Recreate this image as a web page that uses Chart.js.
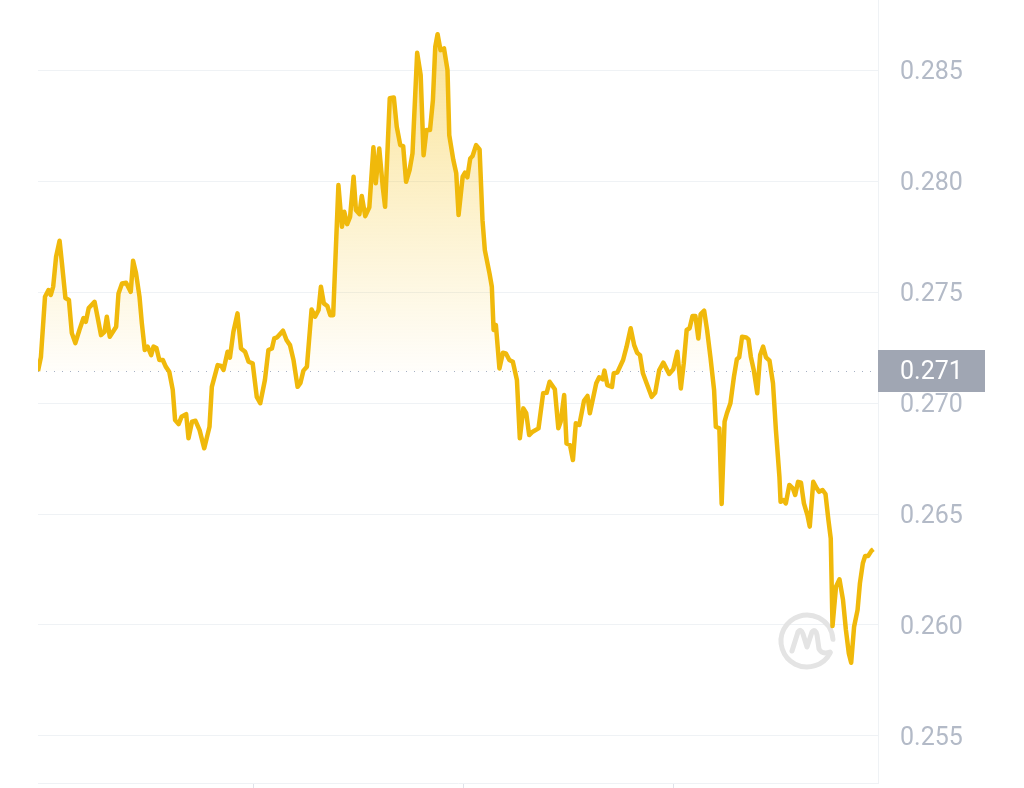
<!DOCTYPE html>
<html>
<head>
<meta charset="utf-8">
<script src="https://cdn.jsdelivr.net/npm/chart.js@4"></script>
<style>
  html, body { margin: 0; padding: 0; background: #fff; }
  #wrap { width: 1024px; height: 788px; }
</style>
</head>
<body>
<div id="wrap"><canvas id="chart-harga"></canvas></div>
<script>
// minutes since open, last 24h
const times = [0, 5, 12, 18, 22, 26, 31, 37, 41, 47, 53, 58, 64, 71, 78, 82, 87, 97, 102, 108,
  114, 118, 123, 134, 138, 144, 151, 159, 163, 168, 174, 178, 183, 188, 194, 198, 203, 208, 214, 219,
  225, 231, 235, 241, 246, 254, 258, 264, 270, 277, 285, 294, 298, 308, 314, 318, 325, 329, 335, 342,
  348, 355, 361, 368, 375, 381, 389, 395, 401, 405, 410, 420, 426, 432, 438, 445, 450, 455, 461, 469,
  475, 481, 485, 490, 496, 501, 506, 515, 521, 525, 530, 535, 541, 545, 551, 555, 561, 568, 575, 579,
  585, 591, 595, 603, 610, 615, 621, 626, 631, 637, 642, 650, 656, 661, 666, 672, 677, 681, 685, 690,
  696, 702, 705, 712, 717, 721, 728, 732, 736, 741, 745, 751, 757, 762, 766, 774, 778, 781, 785, 791,
  797, 802, 808, 814, 821, 826, 832, 837, 842, 848, 858, 866, 872, 877, 886, 892, 896, 902, 906, 912,
  917, 922, 928, 936, 942, 946, 957, 962, 968, 971, 976, 984, 987, 993, 1003, 1009, 1016, 1022, 1027, 1032,
  1037, 1043, 1052, 1058, 1065, 1072, 1082, 1089, 1096, 1102, 1107, 1112, 1117, 1122, 1127, 1132, 1136, 1142, 1147, 1153,
  1159, 1162, 1168, 1172, 1177, 1181, 1187, 1193, 1198, 1202, 1207, 1214, 1218, 1222, 1227, 1233, 1238, 1243, 1248, 1254,
  1260, 1265, 1271, 1273, 1278, 1282, 1288, 1294, 1298, 1303, 1308, 1313, 1319, 1323, 1329, 1335, 1339, 1345, 1350, 1355,
  1359, 1362, 1368, 1374, 1380, 1385, 1390, 1394, 1399, 1405, 1409, 1414, 1418, 1423, 1429, 1432];

const prices = [0.27144, 0.27207, 0.27479, 0.27509, 0.27487, 0.27524, 0.27659, 0.27731, 0.27631, 0.27473,
  0.27464, 0.27315, 0.27270, 0.27329, 0.27383, 0.27366, 0.27428, 0.27456, 0.27389, 0.27306,
  0.27321, 0.27389, 0.27299, 0.27344, 0.27494, 0.27539, 0.27542, 0.27501, 0.27641, 0.27586,
  0.27479, 0.27360, 0.27239, 0.27254, 0.27216, 0.27254, 0.27248, 0.27194, 0.27194, 0.27164,
  0.27141, 0.27059, 0.26923, 0.26905, 0.26938, 0.26950, 0.26841, 0.26916, 0.26920, 0.26878,
  0.26796, 0.26893, 0.27073, 0.27171, 0.27167, 0.27149, 0.27231, 0.27204, 0.27321, 0.27404,
  0.27246, 0.27231, 0.27186, 0.27179, 0.27028, 0.26999, 0.27104, 0.27239, 0.27246, 0.27291,
  0.27296, 0.27326, 0.27284, 0.27261, 0.27194, 0.27073, 0.27091, 0.27146, 0.27164, 0.27422,
  0.27389, 0.27419, 0.27524, 0.27449, 0.27437, 0.27396, 0.27396, 0.27982, 0.27794, 0.27862,
  0.27806, 0.27839, 0.28020, 0.27870, 0.27851, 0.27933, 0.27842, 0.27882, 0.28152, 0.27990,
  0.28147, 0.27974, 0.27884, 0.28373, 0.28377, 0.28245, 0.28162, 0.28158, 0.27997, 0.28050,
  0.28125, 0.28578, 0.28478, 0.28117, 0.28230, 0.28230, 0.28365, 0.28605, 0.28662, 0.28590,
  0.28598, 0.28500, 0.28207, 0.28095, 0.28035, 0.27847, 0.28020, 0.28038, 0.28017, 0.28102,
  0.28113, 0.28162, 0.28143, 0.27824, 0.27689, 0.27584, 0.27524, 0.27329, 0.27351, 0.27156,
  0.27227, 0.27224, 0.27194, 0.27186, 0.27104, 0.26841, 0.26976, 0.26954, 0.26856, 0.26871,
  0.26886, 0.27044, 0.27046, 0.27096, 0.27062, 0.26886, 0.26916, 0.27036, 0.26818, 0.26811,
  0.26743, 0.26909, 0.26901, 0.27010, 0.27032, 0.26954, 0.27089, 0.27116, 0.27107, 0.27146,
  0.27081, 0.27073, 0.27134, 0.27137, 0.27194, 0.27254, 0.27337, 0.27261, 0.27227, 0.27216,
  0.27134, 0.27091, 0.27028, 0.27046, 0.27149, 0.27182, 0.27131, 0.27152, 0.27231, 0.27066,
  0.27179, 0.27329, 0.27337, 0.27392, 0.27392, 0.27291, 0.27401, 0.27416, 0.27329, 0.27201,
  0.27059, 0.26893, 0.26886, 0.26545, 0.26916, 0.26954, 0.26999, 0.27118, 0.27197, 0.27206,
  0.27299, 0.27296, 0.27287, 0.27209, 0.27149, 0.27044, 0.27216, 0.27254, 0.27206, 0.27191,
  0.27089, 0.26878, 0.26668, 0.26555, 0.26563, 0.26548, 0.26631, 0.26616, 0.26586, 0.26645,
  0.26641, 0.26548, 0.26495, 0.26443, 0.26645, 0.26616, 0.26600, 0.26608, 0.26590, 0.26473,
  0.26390, 0.25995, 0.26172, 0.26206, 0.26113, 0.25977, 0.25872, 0.25830, 0.25992, 0.26068,
  0.26188, 0.26278, 0.26311, 0.26311, 0.26335, 0.26341];

const openPrice = 0.27144;
const yTicks = [0.255, 0.260, 0.265, 0.270, 0.275, 0.280, 0.285];
const xTicks = [370, 730, 1090];

const kuning = '#F0B90B';
const abuGrid = '#eff2f5';
const fontLabel = 'Roboto';

// garis titik-titik harga buka + kotak label di sumbu kanan
const garisBuka = {
  id: 'garisBuka',
  beforeDatasetsDraw(chart) {
    const { ctx, chartArea } = chart;
    const y = Math.round(chart.scales.y.getPixelForValue(openPrice)) + 0.5;
    ctx.save();
    ctx.strokeStyle = '#a6b0c3';
    ctx.lineWidth = 1;
    ctx.setLineDash([1, 7]);
    ctx.beginPath();
    ctx.moveTo(chartArea.left, y);
    ctx.lineTo(chartArea.right, y);
    ctx.stroke();
    ctx.restore();

    // logo watermark
    const cx = 807, cy = 641;
    ctx.save();
    ctx.strokeStyle = '#e4e4e4';
    ctx.lineWidth = 5;
    ctx.lineCap = 'round';
    ctx.lineJoin = 'round';
    ctx.beginPath();
    ctx.arc(cx, cy, 26, 0.15 * Math.PI, 1.98 * Math.PI);
    ctx.stroke();
    ctx.beginPath();
    ctx.moveTo(cx - 15, cy + 10);
    ctx.lineTo(cx - 9, cy - 9);
    ctx.quadraticCurveTo(cx - 6, cy - 13, cx - 4, cy - 7);
    ctx.lineTo(cx + 0, cy + 6);
    ctx.lineTo(cx + 5, cy - 9);
    ctx.quadraticCurveTo(cx + 8, cy - 13, cx + 10, cy - 6);
    ctx.lineTo(cx + 12, cy + 8);
    ctx.quadraticCurveTo(cx + 15, cy + 14, cx + 23, cy + 11);
    ctx.stroke();
    ctx.restore();
  },
  afterDraw(chart) {
    const { ctx, chartArea } = chart;
    const y = chart.scales.y.getPixelForValue(openPrice);
    ctx.save();
    ctx.fillStyle = '#a0a6b3';
    ctx.fillRect(chartArea.right, Math.round(y) - 21, 107, 42);
    ctx.fillStyle = '#ffffff';
    ctx.font = '25px ' + fontLabel;
    ctx.textBaseline = 'middle';
    ctx.fillText(openPrice.toFixed(3), chartArea.right + 22, y + 2);
    ctx.restore();
  }
};

new Chart(
  document.getElementById('chart-harga'),
  {
    type: 'line',
    data: {
      datasets: [
        {
          label: 'Harga',
          data: times.map((t, i) => ({ x: t, y: prices[i] })),
          borderColor: kuning,
          borderWidth: 4.5,
          borderJoinStyle: 'round',
          pointRadius: 0,
          tension: 0,
          fill: {
            target: { value: openPrice },
            above: (context) => {
              const { chart } = context;
              const { ctx, chartArea, scales } = chart;
              if (!chartArea) return 'rgba(240,185,11,0.2)';
              const top = scales.y.getPixelForValue(Math.max(...prices));
              const base = scales.y.getPixelForValue(openPrice);
              const g = ctx.createLinearGradient(0, top, 0, base);
              g.addColorStop(0, 'rgba(245,195,30,0.45)');
              g.addColorStop(1, 'rgba(245,195,30,0.02)');
              return g;
            },
            below: 'rgba(0,0,0,0)'
          }
        }
      ]
    },
    options: {
      responsive: true,
      maintainAspectRatio: false,
      animation: false,
      layout: { padding: { left: 38, top: 0, right: 0, bottom: 0 } },
      plugins: {
        legend: { display: false },
        tooltip: { enabled: false }
      },
      scales: {
        x: {
          type: 'linear',
          min: 0,
          max: 1440,
          afterBuildTicks: (scale) => { scale.ticks = xTicks.map(v => ({ value: v })); },
          afterFit: (scale) => {
            scale.height = 5;
            scale.paddingLeft = 0;
            scale.paddingRight = 0;
          },
          grid: { drawOnChartArea: false, drawTicks: true, tickLength: 6, color: '#dfe3ea' },
          border: { display: true, color: abuGrid },
          ticks: { display: false }
        },
        y: {
          position: 'right',
          min: 0.25288,
          max: 0.28816,
          afterBuildTicks: (scale) => { scale.ticks = yTicks.map(v => ({ value: v })); },
          afterFit: (scale) => {
            scale.width = 146;
            scale.paddingTop = 0;
            scale.paddingBottom = 0;
          },
          grid: { color: abuGrid, drawTicks: false },
          border: { display: true, color: abuGrid },
          ticks: {
            padding: 22,
            labelOffset: 3,
            color: '#b3bac7',
            font: { family: fontLabel, size: 25 },
            callback: (v) => v.toFixed(3)
          }
        }
      }
    },
    plugins: [garisBuka]
  }
);
</script>
</body>
</html>
